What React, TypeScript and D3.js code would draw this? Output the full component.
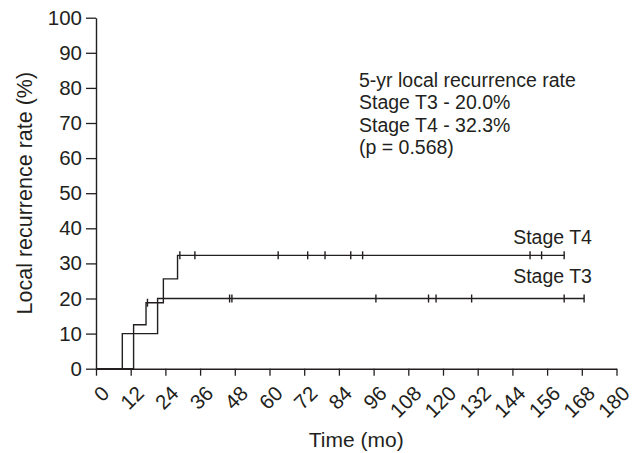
import { useEffect, useRef } from 'react'
import * as d3 from 'd3'

// Kaplan-Meier style step points: [month, cumulative recurrence %]
const t3Steps: [number, number][] = [[0, 0], [9.1, 10], [21.3, 20]]
const t4Steps: [number, number][] = [[0, 0], [13, 12.5], [17.3, 18.8], [23.3, 25.6], [28.2, 32.3]]
const t3End = 168.8
const t4End = 162

// censored observations (months)
const t3Censor = [46.2, 47.0, 96.8, 115, 117.6, 129.9, 161.9, 168.8]
const t4Censor = [17.8, 29.0, 34.2, 63, 73.2, 79.2, 88.1, 92.2, 150.1, 154.1, 161.9]

const xTicks = d3.range(0, 181, 12)
const yTicks = d3.range(0, 101, 10)

const noteLines = [
  '5-yr local recurrence rate',
  'Stage T3 - 20.0%',
  'Stage T4 - 32.3%',
  '(p = 0.568)',
]

const FONT = '"Liberation Sans", Arial, sans-serif'
const INK = '#231f20'

function valueAt(steps: [number, number][], t: number) {
  let v = 0
  for (const [m, p] of steps) if (m <= t) v = p
  return v
}

export default function App() {
  const svgRef = useRef<SVGSVGElement>(null)

  useEffect(() => {
    if (!svgRef.current) return
    const W = 635
    const H = 453
    const margin = { top: 17.7, left: 96, right: 18.5, bottom: 84.3 }
    const width = W - margin.left - margin.right
    const height = H - margin.top - margin.bottom

    d3.select(svgRef.current).selectAll('*').remove()
    const root = d3.select(svgRef.current)
      .attr('width', W)
      .attr('height', H)
      .style('font-family', FONT)

    const svg = root.append('g')
      .attr('transform', `translate(${margin.left},${margin.top})`)

    const x = d3.scaleLinear().domain([0, 180]).range([0, width])
    const y = d3.scaleLinear().domain([0, 100]).range([height, 0])

    // Axes
    const yAxis = svg.append('g')
      .call(d3.axisLeft(y).tickValues(yTicks).tickSize(10).tickPadding(4).tickSizeOuter(0))
    yAxis.select('.domain').attr('stroke', INK).attr('stroke-width', 1.4)
    yAxis.selectAll('.tick line').attr('stroke', INK).attr('stroke-width', 1.3)
    yAxis.selectAll('.tick text')
      .attr('fill', INK)
      .attr('font-size', 20.5)
      .attr('font-family', FONT)

    const xAxis = svg.append('g')
      .attr('transform', `translate(0,${height})`)
      .call(d3.axisBottom(x).tickValues(xTicks).tickSize(7).tickSizeOuter(0))
    xAxis.select('.domain').attr('stroke', INK).attr('stroke-width', 1.4)
    xAxis.selectAll('.tick line').attr('stroke', INK).attr('stroke-width', 1.3)
    xAxis.selectAll('.tick text')
      .attr('fill', INK)
      .attr('font-size', 20.5)
      .attr('font-family', FONT)
      .attr('text-anchor', 'end')
      .attr('y', 0)
      .attr('dy', 0)
      .attr('transform', 'translate(14,26) rotate(-45)')

    // Axis titles
    root.append('text')
      .attr('transform', `translate(32,${margin.top + height / 2}) rotate(-90)`)
      .attr('text-anchor', 'middle')
      .attr('fill', INK)
      .attr('font-size', 21.5)
      .text('Local recurrence rate (%)')

    root.append('text')
      .attr('x', margin.left + width / 2)
      .attr('y', 446.5)
      .attr('text-anchor', 'middle')
      .attr('fill', INK)
      .attr('font-size', 21)
      .text('Time (mo)')

    // Step curves
    const line = d3.line<[number, number]>()
      .x(d => x(d[0]))
      .y(d => y(d[1]))
      .curve(d3.curveStepAfter)

    const curves = [
      { steps: t3Steps, end: t3End, censor: t3Censor },
      { steps: t4Steps, end: t4End, censor: t4Censor },
    ]

    curves.forEach(c => {
      const pts: [number, number][] = [...c.steps, [c.end, c.steps[c.steps.length - 1][1]]]
      svg.append('path')
        .attr('d', line(pts))
        .attr('fill', 'none')
        .attr('stroke', INK)
        .attr('stroke-width', 1.4)

      svg.selectAll(null)
        .data(c.censor)
        .join('line')
        .attr('x1', d => x(d))
        .attr('x2', d => x(d))
        .attr('y1', d => y(valueAt(c.steps, d)) - 4)
        .attr('y2', d => y(valueAt(c.steps, d)) + 4)
        .attr('stroke', INK)
        .attr('stroke-width', 1.4)
    })

    // Curve labels
    svg.append('text')
      .attr('x', x(171.5))
      .attr('y', y(32.3) - 11.5)
      .attr('text-anchor', 'end')
      .attr('fill', INK)
      .attr('font-size', 19.5)
      .text('Stage T4')

    svg.append('text')
      .attr('x', x(171.5))
      .attr('y', y(20) - 15)
      .attr('text-anchor', 'end')
      .attr('fill', INK)
      .attr('font-size', 19.5)
      .text('Stage T3')

    // Annotation
    const note = root.append('text')
      .attr('x', 359)
      .attr('y', 86.7)
      .attr('fill', INK)
      .attr('font-size', 19.5)
    noteLines.forEach((t, i) => {
      note.append('tspan')
        .attr('x', 359)
        .attr('dy', i === 0 ? 0 : 22.5)
        .text(t)
    })
  }, [])

  return (
    <div style={{ position: 'absolute', left: 0, top: 0, background: '#fff' }}>
      <svg ref={svgRef} style={{ display: 'block' }}></svg>
    </div>
  )
}
